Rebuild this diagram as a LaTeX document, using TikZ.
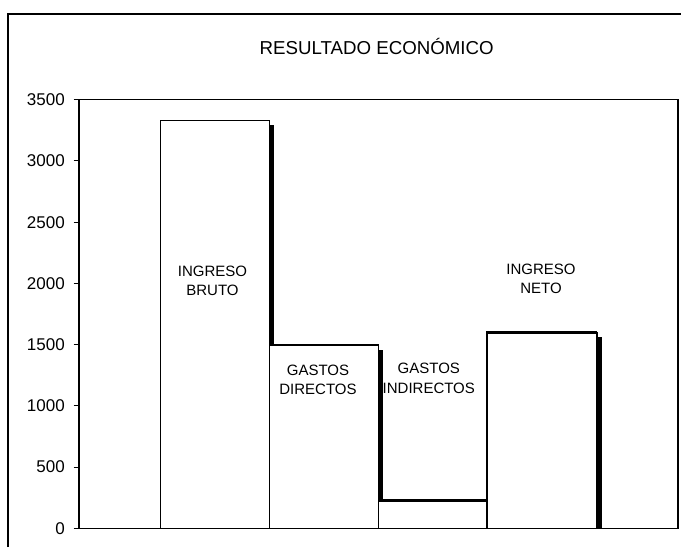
\documentclass[tikz,border=0pt]{standalone}
\usepackage{fontspec}
\setmainfont{Liberation Sans}
\usetikzlibrary{positioning}

\begin{document}
\begin{tikzpicture}[
        x=1pt, y=-1pt,
        bar/.style={draw, fill=white, line width=1.2pt},
        barshadow/.style={fill=black},
        thicktop/.style={line width=3.2pt},
        barlabel/.style={font=\fontsize{15}{19.5}\selectfont, align=center, inner sep=0pt},
        ticklabel/.style={font=\fontsize{17}{20}\selectfont, anchor=east, inner sep=0pt}
    ]
        \useasboundingbox (0,0) rectangle (681,547);

        % outer frame, cut at the page edges
        \draw[line width=2pt] (8,547) -- (8,13.5) -- (681,13.5);
        \node[font=\fontsize{18.7}{22}\selectfont] (title) at (376.7,46) {RESULTADO ECONÓMICO};

        % plot area and y axis
        \draw[line width=1.2pt] (79,99.8) rectangle (678,528.3);
        \foreach \v in {0,500,...,3500} {
            \draw[line width=1pt] (73.5,{528.3-0.12243*\v}) -- (79,{528.3-0.12243*\v});
            \node[ticklabel] (t\v) at (65,{528.3-0.12243*\v}) {\v};
        }

        % shadows first, then the bars on top
        \fill[barshadow] (165,125.2) rectangle (274,528.3);
        \fill[barshadow] (274,349.5) rectangle (383.2,528.3);
        \fill[barshadow] (383.2,505.2) rectangle (491.5,528.3);
        \fill[barshadow] (491.5,337.2) rectangle (601.5,528.3);

        \draw[bar] (160.5,120.7) rectangle (269.5,528.3);
        \draw[bar] (269.5,345) rectangle (378.7,528.3);
        \draw[bar] (378.7,500.7) rectangle (487,528.3);
        \draw[bar] (487,332.7) rectangle (597,528.3);
        \draw[thicktop] (378.7,500.7) -- (487,500.7);
        \draw[thicktop] (486,332.7) -- (597,332.7);

        % labels
        \node[barlabel] (bruto) at (212.5,281) {INGRESO\\BRUTO};
        \node[barlabel] (directos) at (318,380) {GASTOS\\DIRECTOS};
        \node[barlabel] (indirectos) at (428.8,378.5) {GASTOS\\INDIRECTOS};
        \node[barlabel] (neto) at (541,279) {INGRESO\\NETO};
    \end{tikzpicture}
\end{document}
